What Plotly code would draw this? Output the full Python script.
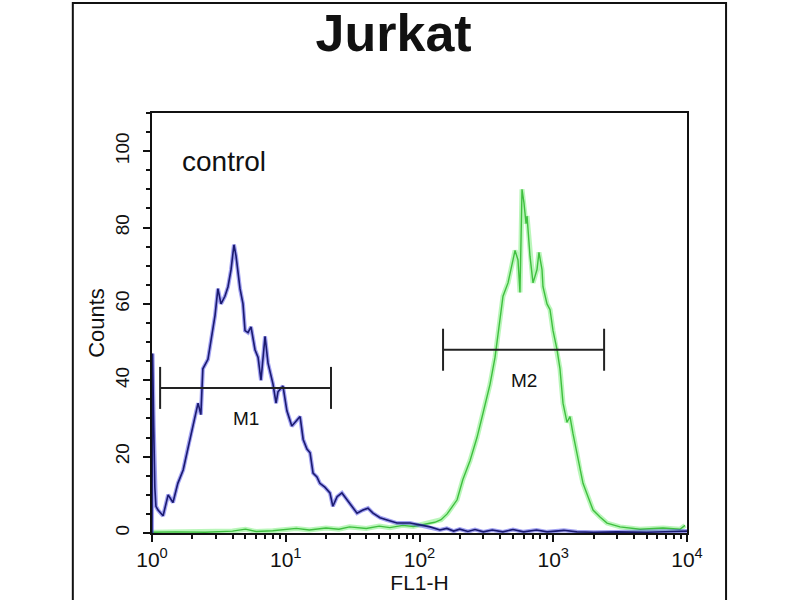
import math
import plotly.graph_objects as go

# control (blue) histogram: FL1-H value, counts
control_x = [1.0, 1.01, 1.03, 1.05, 1.07, 1.11, 1.21, 1.32, 1.435, 1.56, 1.71, 1.86, 2.03, 2.21,
             2.32, 2.40, 2.62, 2.76, 2.96, 3.11, 3.28, 3.51, 3.70, 3.90, 4.10, 4.25, 4.55, 4.79,
             4.96, 5.22, 5.50, 5.89, 6.21, 6.53, 7.00, 7.37, 8.03, 8.46, 8.75, 9.53, 10.2, 11.1,
             12.1, 12.8, 13.5, 14.4, 15.2, 16.0, 17.1, 18.0, 19.6, 21.4, 22.5, 24.2, 26.3, 28.7,
             31.3, 34.1, 37.8, 41.2, 44.9, 50.7, 57.2, 67.9, 84.9, 101, 120, 142, 160, 180, 200,
             230, 260, 300, 350, 420, 500, 600, 750, 900, 1200, 1500, 2000, 3000, 5000, 8000, 10000]
control_y = [0, 47, 28, 12, 7, 6, 4.5, 10, 8, 13, 16.5, 22.5, 28, 34,
             31, 43, 45.5, 50, 57, 64, 60, 62, 64.5, 69, 75.5, 72.5, 64, 60,
             53, 52.5, 54, 48, 46, 40, 51.5, 44.5, 39, 34, 37, 38.5, 32, 28,
             29.5, 30.5, 24.5, 22, 21, 15.7, 14.7, 13, 12, 10.5, 7, 9.5, 10.5, 8.7,
             7, 5.2, 6, 6.5, 5.2, 4, 3.4, 2.6, 2.6, 2, 1.6, 0.8, 1.2, 0.5, 1.0,
             0.4, 0.9, 0.3, 0.8, 0.3, 0.9, 0.3, 0.8, 0.3, 0.7, 0.3, 0.2, 0.3, 0.2, 0.4, 0.5]

# stained sample (green) histogram
sample_x = [1.0, 1.5, 2.5, 4, 5, 6, 8, 10, 12, 15, 20, 25, 30, 40, 50, 60, 75, 90, 110, 130, 145,
            161, 191, 211, 239, 269, 299, 337, 367, 400, 421, 459, 492, 518, 545, 564, 584, 604,
            626, 637, 670, 706, 756, 782, 824, 838, 898, 946, 996, 1067, 1123, 1183, 1267, 1334,
            1405, 1505, 1585, 1669, 1820, 1984, 2237, 2524, 3155, 4454, 6620, 8870, 9660]
sample_y = [0.2, 0.3, 0.2, 0.5, 1.0, 0.4, 0.6, 0.9, 1.2, 0.8, 1.3, 1.0, 1.6, 1.2, 1.8, 1.4, 2.0, 1.7, 2.4, 2.8, 3.5,
            5, 8.7, 14, 19, 25, 31.5, 39, 46, 56, 62, 65.5, 70, 74, 71.5, 63, 90, 86.5,
            81, 83, 72.5, 65.5, 69, 73.5, 69, 64.5, 60, 58.5, 53, 48, 43, 34, 29, 30.5,
            26, 21, 16.5, 13, 9.5, 6, 4.2, 2.6, 1.6, 1.0, 1.3, 1.0, 2.0]

# marker gates
gate_names = ["M1", "M2"]
gate_lo = [1.15, 150]
gate_hi = [21.8, 2400]
gate_y = [38, 48]

x_tick_vals = [1, 10, 100, 1000, 10000]
x_tick_text = ["10<sup>0</sup>", "10<sup>1</sup>", "10<sup>2</sup>", "10<sup>3</sup>", "10<sup>4</sup>"]
x_minor_vals = [m * 10 ** d for d in range(4) for m in range(2, 10)]
y_tick_vals = [0, 20, 40, 60, 80, 100]

font = "Liberation Sans, Arial, sans-serif"

fig = go.Figure()

# green first, blue on top; a wide faint line underneath gives the soft halo
fig.add_trace(go.Scatter(x=sample_x, y=sample_y, mode="lines", line=dict(color="rgba(140,240,140,0.6)", width=5),
                         hoverinfo="skip", showlegend=False))
fig.add_trace(go.Scatter(x=sample_x, y=sample_y, mode="lines", line=dict(color="#3fbf3f", width=1.4),
                         name="sample", showlegend=False))
fig.add_trace(go.Scatter(x=control_x, y=control_y, mode="lines", line=dict(color="rgba(70,70,230,0.5)", width=4),
                         hoverinfo="skip", showlegend=False))
fig.add_trace(go.Scatter(x=control_x, y=control_y, mode="lines", line=dict(color="#1a1a70", width=1.6),
                         name="control", showlegend=False))

for name, lo, hi, gy in zip(gate_names, gate_lo, gate_hi, gate_y):
    fig.add_trace(go.Scatter(x=[lo, hi], y=[gy, gy], mode="lines", line=dict(color="#222", width=2),
                             hoverinfo="skip", showlegend=False))
    for xe in (lo, hi):
        fig.add_trace(go.Scatter(x=[xe, xe], y=[gy - 5.5, gy + 5.5], mode="lines", line=dict(color="#222", width=2),
                                 hoverinfo="skip", showlegend=False))
    # annotations on a log axis take log10 positions
    fig.add_annotation(x=math.log10(math.sqrt(lo * hi)), y=gy - 8, text=name, showarrow=False,
                       font=dict(family=font, size=19, color="#111"), xanchor="center", yanchor="middle")

fig.add_annotation(xref="paper", yref="paper", x=0.052, y=0.885, text="control", showarrow=False,
                   xanchor="left", yanchor="middle", font=dict(family=font, size=28, color="#111"))

# outer frame of the figure
fig.add_shape(type="rect", xref="paper", yref="paper", x0=-0.148, x1=1.073, y0=-0.2, y1=1.262,
              line=dict(color="#111", width=2))

fig.update_xaxes(type="log", range=[0, 4], tickmode="array", tickvals=x_tick_vals, ticktext=x_tick_text,
                 ticks="outside", ticklen=7, tickwidth=2, tickcolor="#111",
                 minor=dict(tickmode="array", tickvals=x_minor_vals, ticks="outside", ticklen=4, tickwidth=2,
                            tickcolor="#111"),
                 showline=True, mirror=True, linewidth=2, linecolor="#111", showgrid=False, zeroline=False,
                 tickfont=dict(family=font, size=21, color="#111"),
                 title=dict(text="FL1-H", font=dict(family=font, size=21, color="#111"), standoff=3))
fig.update_yaxes(range=[0, 110], tickmode="array", tickvals=y_tick_vals, tickangle=-90,
                 ticks="outside", ticklen=7, tickwidth=2, tickcolor="#111", ticklabelstandoff=6,
                 minor=dict(dtick=5, ticks="outside", ticklen=4, tickwidth=2, tickcolor="#111"),
                 showline=True, mirror=True, linewidth=2, linecolor="#111", showgrid=False, zeroline=False,
                 tickfont=dict(family=font, size=19, color="#111"),
                 title=dict(text="Counts", font=dict(family=font, size=22, color="#111"), standoff=2))

fig.update_layout(
    width=800, height=600,
    margin=dict(l=152, r=113, t=113, b=67, autoexpand=False),
    paper_bgcolor="white", plot_bgcolor="white",
    title=dict(text="<b>Jurkat</b>", x=0.492, xref="container", y=0.945, yref="container",
               xanchor="center", yanchor="middle", font=dict(family=font, size=52, color="#111")),
)

# drop the page's default body margin so the figure sits at the window corner
fig.write_html("out.html", config={"displayModeBar": False},
               post_script="document.body.style.margin='0';")
